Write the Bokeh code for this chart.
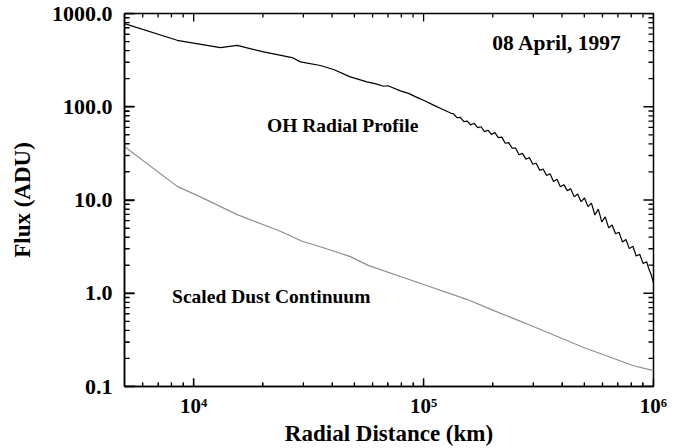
from bokeh.plotting import figure
from bokeh.models import FixedTicker, PrintfTickFormatter, Label, Range1d, CustomJSTickFormatter
from bokeh.embed import file_html
from bokeh.resources import INLINE
import math

# ---------------- data ----------------
OH_X = [5000, 8470, 13070, 15450, 20130, 26800, 29100, 35550, 40600, 48000,
        56700, 62000, 67000, 70000, 79300, 86000, 93500, 101000, 110500, 122000, 131800,
        134900, 139600, 144500, 149600, 154900, 160300, 166000, 171800, 177800, 184100,
        190500, 197200, 204200, 211300, 218800, 226500, 234400, 242700, 251200, 260000,
        269200, 278600, 288400, 298500, 309000, 319900, 331100, 342800, 354800, 367300,
        380200, 393600, 407400, 421700, 436500, 451900, 467700, 484200, 501200, 518800,
        537000, 555900, 575400, 595700, 616600, 638300, 660700, 683900, 707900, 732800,
        758600, 785200, 812800, 841400, 871000, 901600, 933300, 955000, 977200, 1000000]
OH_Y = [778, 516, 431, 456, 387, 337, 303, 277, 251, 209,
        185, 176, 166, 168, 148, 139, 126, 116, 104, 93, 85,
        84.1, 76.4, 76.9, 69.2, 70.1, 63.7, 66.5, 59.7, 61.0, 54.1,
        56.0, 50.6, 52.8, 46.6, 47.2, 40.6, 41.2, 36.0, 36.1, 30.6,
        31.6, 27.4, 28.6, 24.2, 24.8, 20.8, 21.5, 18.3, 19.1, 15.8,
        16.7, 13.9, 14.6, 12.6, 13.2, 10.8, 11.6, 9.59, 10.5, 8.49,
        9.25, 6.90, 7.98, 5.82, 6.59, 5.02, 5.40, 4.35, 4.51, 3.55,
        3.77, 3.01, 3.19, 2.51, 2.62, 2.08, 2.18, 1.82, 1.58, 1.29]

DUST_X = [5000, 8470, 10700, 15450, 23800, 29600, 35550, 48000, 57400,
          100000, 154000, 200000, 300000, 497000, 819000, 1000000]
DUST_Y = [37.5, 14.0, 10.8, 6.97, 4.62, 3.61, 3.15, 2.47, 1.99,
          1.24, 0.861, 0.66, 0.44, 0.262, 0.167, 0.148]

X_TICKS = [1e4, 1e5, 1e6]
X_TICK_LABELS = ["10\u2074", "10\u2075", "10\u2076"]
Y_TICKS = [0.1, 1, 10, 100, 1000]

X_START, X_END = 5000, 1e6
Y_START, Y_END = 0.1, 1000

FONT = "Liberation Serif"

W, H = 678, 448
BL, BR, BT, BB = 124, 25, 13, 60

p = figure(width=W, height=H, x_axis_type="log", y_axis_type="log",
           x_range=Range1d(X_START, X_END), y_range=Range1d(Y_START, Y_END),
           output_backend="svg", toolbar_location=None,
           min_border_left=BL, min_border_right=BR, min_border_top=BT, min_border_bottom=BB)
p.grid.visible = False
p.outline_line_color = "black"
p.outline_line_width = 1.5

p.line(OH_X, OH_Y, line_color="black", line_width=1.2)
p.line(DUST_X, DUST_Y, line_color="#8f8f8f", line_width=1.2)

x_minor = [m * 10 ** k for k in range(3, 6) for m in range(2, 10) if X_START < m * 10 ** k < X_END]
y_minor = [m * 10.0 ** k for k in range(-1, 3) for m in range(2, 10)]

x_px_per_dec = (W - BL - BR) / math.log10(X_END / X_START)
y_px_per_dec = (H - BT - BB) / math.log10(Y_END / Y_START)


def xf(px):
    return 10 ** (px / x_px_per_dec)


def yf(px):
    return 10 ** (px / y_px_per_dec)


# inward tick marks along all four frame edges
tick_xs = [[x, x] for x in X_TICKS] + [[x, x] for x in x_minor]
top_ys = [[Y_END, Y_END / yf(8)] for _ in X_TICKS] + [[Y_END, Y_END / yf(4)] for _ in x_minor]
bot_ys = [[Y_START, Y_START * yf(8)] for _ in X_TICKS] + [[Y_START, Y_START * yf(4)] for _ in x_minor]
tick_ys = [[y, y] for y in Y_TICKS] + [[y, y] for y in y_minor]
r_xs = [[X_END, X_END / xf(10)] for _ in Y_TICKS] + [[X_END, X_END / xf(5)] for _ in y_minor]
l_xs = [[X_START, X_START * xf(10)] for _ in Y_TICKS] + [[X_START, X_START * xf(5)] for _ in y_minor]
p.multi_line(tick_xs, top_ys, line_color="black", line_width=1.3)
p.multi_line(tick_xs, bot_ys, line_color="black", line_width=1.3)
p.multi_line(r_xs, tick_ys, line_color="black", line_width=1.3)
p.multi_line(l_xs, tick_ys, line_color="black", line_width=1.3)


def style(ax, major, minor):
    ax.axis_line_color = "black"
    ax.axis_line_width = 1.5
    ax.major_tick_line_color = "black"
    ax.minor_tick_line_color = "black"
    ax.major_tick_line_width = 1.3
    ax.minor_tick_line_width = 1.0
    ax.major_tick_in = major
    ax.major_tick_out = 0
    ax.minor_tick_in = minor
    ax.minor_tick_out = 0


xb = p.xaxis[0]
style(xb, 8, 4)
xb.ticker = FixedTicker(ticks=X_TICKS, minor_ticks=x_minor)
xb.formatter = CustomJSTickFormatter(
    args=dict(tvals=X_TICKS, tlabels=X_TICK_LABELS),
    code="for (let i = 0; i < tvals.length; i++) { if (Math.abs(tvals[i] - tick) <= 1e-6 * tvals[i]) return tlabels[i]; } return '';")
xb.major_label_text_font = FONT
xb.major_label_text_font_style = "bold"
xb.major_label_text_font_size = "21px"
xb.major_label_text_color = "black"
xb.major_label_standoff = 7
xb.axis_label = "Radial Distance (km)"
xb.axis_label_text_font = FONT
xb.axis_label_text_font_style = "bold"
xb.axis_label_text_font_size = "23px"
xb.axis_label_text_color = "black"
xb.axis_label_standoff = 0

yl = p.yaxis[0]
style(yl, 10, 5)
yl.ticker = FixedTicker(ticks=Y_TICKS, minor_ticks=y_minor)
yl.formatter = PrintfTickFormatter(format="%.1f")
yl.major_label_text_font = FONT
yl.major_label_text_font_style = "bold"
yl.major_label_text_font_size = "22px"
yl.major_label_text_color = "black"
yl.major_label_standoff = 12
yl.axis_label = "Flux (ADU)"
yl.axis_label_text_font = FONT
yl.axis_label_text_font_style = "bold"
yl.axis_label_text_font_size = "23px"
yl.axis_label_text_color = "black"
yl.axis_label_standoff = 14

p.add_layout(Label(x=729000, y=483, text="08 April, 1997", text_align="right",
                   text_baseline="alphabetic", text_font=FONT, text_font_style="bold",
                   text_font_size="21.5px", text_color="black"))
p.add_layout(Label(x=20840, y=62.2, text="OH Radial Profile", text_align="left",
                   text_baseline="alphabetic", text_font=FONT, text_font_style="bold",
                   text_font_size="19.5px", text_color="black"))
p.add_layout(Label(x=8055, y=0.933, text="Scaled Dust Continuum", text_align="left",
                   text_baseline="alphabetic", text_font=FONT, text_font_style="bold",
                   text_font_size="19.5px", text_color="black"))

open("out.html", "w").write(file_html(p, INLINE))
